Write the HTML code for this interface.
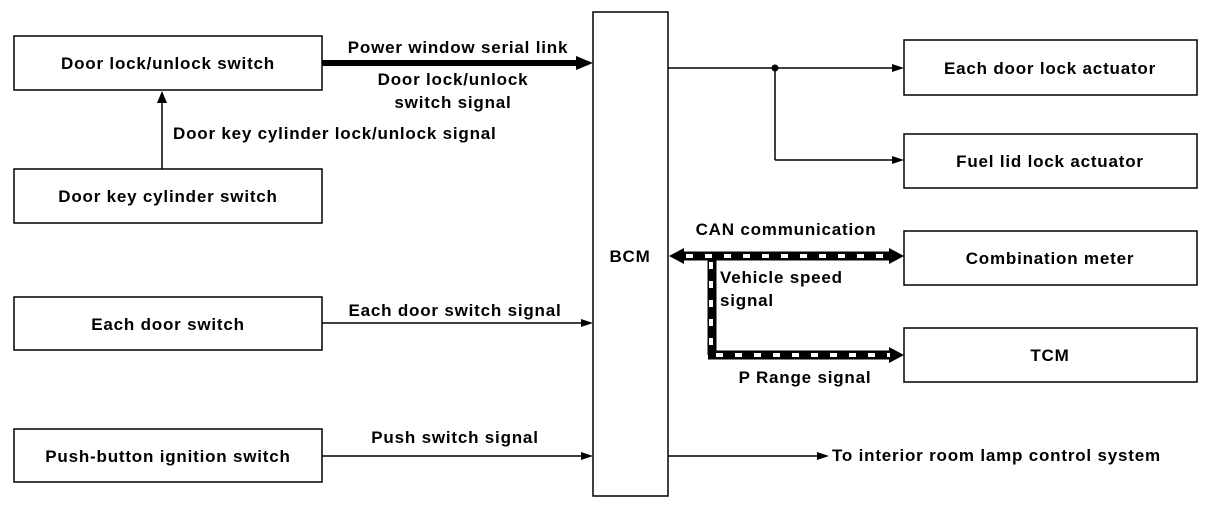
<!DOCTYPE html>
<html><head><style>body{margin:0;background:#fff}svg{display:block}text{font-family:"Liberation Sans",sans-serif;font-size:17px;letter-spacing:0.8px;font-weight:bold;fill:#000}</style></head><body>
<svg width="1216" height="512" viewBox="0 0 1216 512">
<g fill="none" stroke="#000" stroke-width="1.5">
<rect x="14" y="36" width="308" height="54"/>
<rect x="14" y="169" width="308" height="54"/>
<rect x="14" y="297" width="308" height="53"/>
<rect x="14" y="429" width="308" height="53"/>
<rect x="593" y="12" width="75" height="484"/>
<rect x="904" y="40" width="293" height="55"/>
<rect x="904" y="134" width="293" height="54"/>
<rect x="904" y="231" width="293" height="54"/>
<rect x="904" y="328" width="293" height="54"/>
<line x1="162" y1="169" x2="162" y2="100"/>
<line x1="322" y1="323" x2="583" y2="323"/>
<line x1="322" y1="456" x2="583" y2="456"/>
<line x1="668" y1="68" x2="893" y2="68"/>
<line x1="775" y1="68" x2="775" y2="160"/>
<line x1="775" y1="160" x2="893" y2="160"/>
<line x1="668" y1="456" x2="818" y2="456"/>
</g>
<circle cx="775" cy="68" r="3.5"/>
<line x1="322" y1="63" x2="578" y2="63" stroke="#000" stroke-width="6"/>
<g fill="#000">
<polygon points="162,91 157,103 167,103"/>
<polygon points="593,63 576,56 576,70"/>
<polygon points="593,323 581,319 581,327"/>
<polygon points="593,456 581,452 581,460"/>
<polygon points="904,68 892,64 892,72"/>
<polygon points="904,160 892,156 892,164"/>
<polygon points="829,456 817,452 817,460"/>
<polygon points="669,256 684,248 684,264"/>
<polygon points="904,256 889,248 889,264"/>
<polygon points="904,355 889,347 889,363"/>
</g>
<g stroke="#000" stroke-width="9" fill="none">
<line x1="682" y1="256" x2="890" y2="256"/>
<line x1="712" y1="256" x2="712" y2="355"/>
<line x1="708" y1="355" x2="890" y2="355"/>
</g>
<g stroke="#fff" stroke-width="4" fill="none" stroke-dasharray="7,12">
<line x1="686" y1="256" x2="890" y2="256"/>
<line x1="711" y1="262" x2="711" y2="352"/>
<line x1="716" y1="355" x2="890" y2="355"/>
</g>
<text x="168" y="69" text-anchor="middle">Door lock/unlock switch</text>
<text x="168" y="202" text-anchor="middle">Door key cylinder switch</text>
<text x="168" y="330" text-anchor="middle">Each door switch</text>
<text x="168" y="462" text-anchor="middle">Push-button ignition switch</text>
<text x="630" y="262" text-anchor="middle">BCM</text>
<text x="1050" y="74" text-anchor="middle">Each door lock actuator</text>
<text x="1050" y="167" text-anchor="middle">Fuel lid lock actuator</text>
<text x="1050" y="264" text-anchor="middle">Combination meter</text>
<text x="1050" y="361" text-anchor="middle">TCM</text>
<text x="458" y="53" text-anchor="middle">Power window serial link</text>
<text x="453" y="85" text-anchor="middle">Door lock/unlock</text>
<text x="453" y="108" text-anchor="middle">switch signal</text>
<text x="173" y="139">Door key cylinder lock/unlock signal</text>
<text x="455" y="316" text-anchor="middle">Each door switch signal</text>
<text x="455" y="443" text-anchor="middle">Push switch signal</text>
<text x="786" y="235" text-anchor="middle">CAN communication</text>
<text x="720" y="283">Vehicle speed</text>
<text x="720" y="306">signal</text>
<text x="805" y="383" text-anchor="middle">P Range signal</text>
<text x="832" y="461">To interior room lamp control system</text>
</svg>
</body></html>
